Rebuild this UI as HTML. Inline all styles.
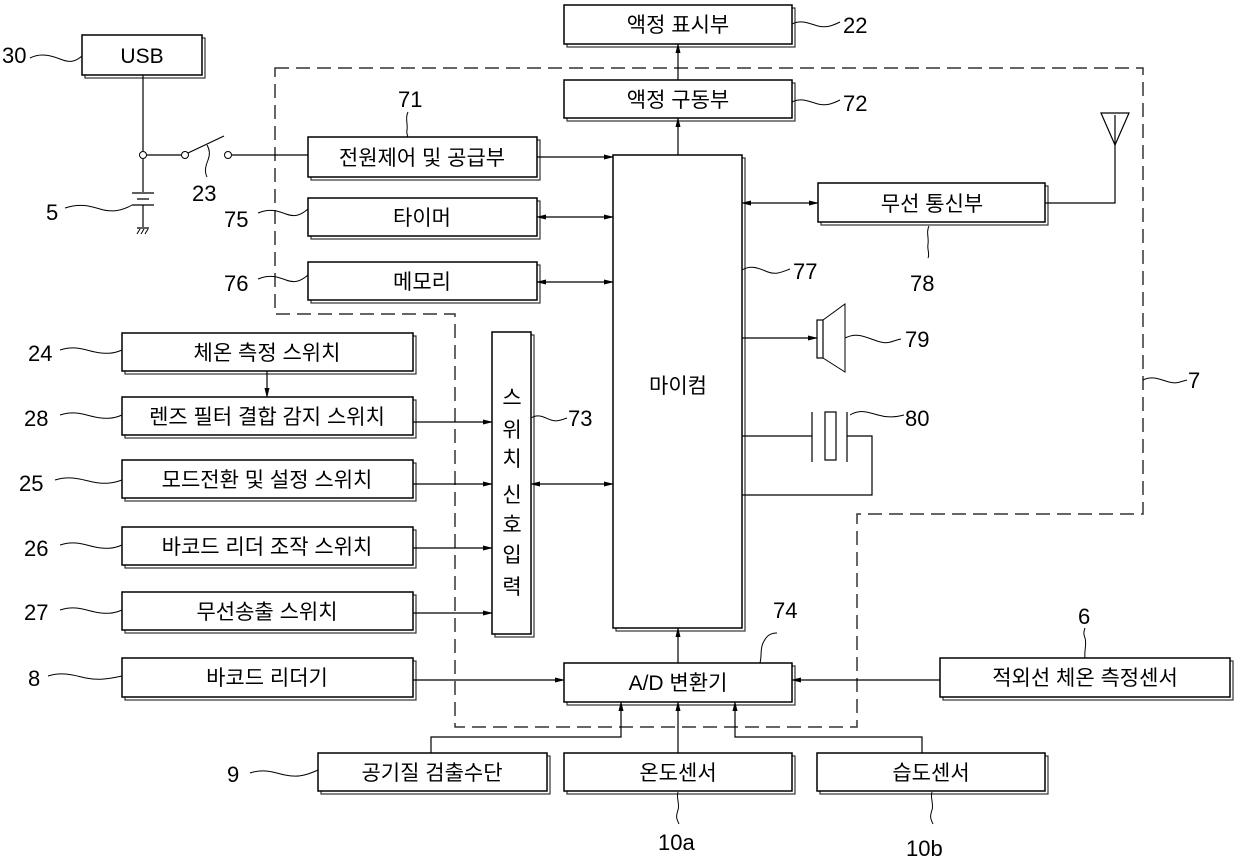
<!DOCTYPE html>
<html><head><meta charset="utf-8"><style>
html,body{margin:0;padding:0;background:#fff}
svg{display:block}
text{font-family:"Liberation Sans","Noto Sans CJK KR","NanumGothic",sans-serif;font-size:21px;fill:#000}
text.n{font-size:22px}
.b{fill:#fff;stroke:#000;stroke-width:1.5}
.s{fill:#fff;stroke:#333;stroke-width:1.2}
.l{stroke:#000;stroke-width:1.2;fill:none}
.w{stroke:#000;stroke-width:1;fill:none}
</style></head><body>
<svg width="1240" height="860" viewBox="0 0 1240 860" xmlns="http://www.w3.org/2000/svg">
<defs>
<marker id="a" markerWidth="10" markerHeight="6" refX="9" refY="3" orient="auto" markerUnits="userSpaceOnUse"><path d="M0,0.5 L10,3 L0,5.5 z" fill="#000"/></marker>
<marker id="as" markerWidth="10" markerHeight="6" refX="1" refY="3" orient="auto" markerUnits="userSpaceOnUse"><path d="M10,0.5 L0,3 L10,5.5 z" fill="#000"/></marker>
</defs>
<path d="M275,68 H1143 V514 H857 V727 H455 V314 H275 Z" fill="none" stroke="#333" stroke-width="1.5" stroke-dasharray="14,7"/>

<g>
<rect class="s" x="85" y="38" width="120" height="40"/><rect class="b" x="82" y="35" width="120" height="40"/>
<text x="142" y="63" text-anchor="middle">USB</text>

<rect class="s" x="567" y="8" width="228" height="39"/><rect class="b" x="564" y="5" width="228" height="39"/>
<text x="678" y="32" text-anchor="middle">액정 표시부</text>

<rect class="s" x="567" y="83" width="228" height="38"/><rect class="b" x="564" y="80" width="228" height="38"/>
<text x="678" y="107" text-anchor="middle">액정 구동부</text>

<rect class="s" x="311" y="140" width="229" height="40"/><rect class="b" x="308" y="137" width="229" height="40"/>
<text x="422" y="165" text-anchor="middle">전원제어 및 공급부</text>

<rect class="s" x="311" y="201" width="229" height="38"/><rect class="b" x="308" y="198" width="229" height="38"/>
<text x="422" y="225" text-anchor="middle">타이머</text>

<rect class="s" x="311" y="265" width="229" height="38"/><rect class="b" x="308" y="262" width="229" height="38"/>
<text x="422" y="289" text-anchor="middle">메모리</text>

<rect class="s" x="616" y="158" width="129" height="473"/><rect class="b" x="613" y="155" width="129" height="473"/>
<text x="678" y="393" text-anchor="middle">마이컴</text>

<rect class="s" x="821" y="186" width="227" height="39"/><rect class="b" x="818" y="183" width="227" height="39"/>
<text x="932" y="211" text-anchor="middle">무선 통신부</text>

<rect class="s" x="495" y="335" width="39" height="302"/><rect class="b" x="492" y="332" width="39" height="302"/>
<g text-anchor="middle">
<text x="512" y="405">스</text><text x="512" y="437">위</text><text x="512" y="466">치</text>
<text x="512" y="502">신</text><text x="512" y="532">호</text><text x="512" y="562">입</text><text x="512" y="594">력</text>
</g>

<rect class="s" x="125" y="336" width="291" height="38"/><rect class="b" x="122" y="333" width="291" height="38"/>
<text x="267" y="360" text-anchor="middle">체온 측정 스위치</text>
<rect class="s" x="125" y="400" width="291" height="38"/><rect class="b" x="122" y="397" width="291" height="38"/>
<text x="267" y="424" text-anchor="middle">렌즈 필터 결합 감지 스위치</text>
<rect class="s" x="125" y="463" width="291" height="38"/><rect class="b" x="122" y="460" width="291" height="38"/>
<text x="267" y="487" text-anchor="middle">모드전환 및 설정 스위치</text>
<rect class="s" x="125" y="530" width="291" height="38"/><rect class="b" x="122" y="527" width="291" height="38"/>
<text x="267" y="554" text-anchor="middle">바코드 리더 조작 스위치</text>
<rect class="s" x="125" y="595" width="291" height="38"/><rect class="b" x="122" y="592" width="291" height="38"/>
<text x="267" y="619" text-anchor="middle">무선송출 스위치</text>
<rect class="s" x="125" y="661" width="291" height="39"/><rect class="b" x="122" y="658" width="291" height="39"/>
<text x="267" y="685" text-anchor="middle">바코드 리더기</text>

<rect class="s" x="567" y="666" width="228" height="39"/><rect class="b" x="564" y="663" width="228" height="39"/>
<text x="678" y="690" text-anchor="middle">A/D 변환기</text>

<rect class="s" x="943" y="661" width="290" height="39"/><rect class="b" x="940" y="658" width="290" height="39"/>
<text x="1085" y="685" text-anchor="middle">적외선 체온 측정센서</text>

<rect class="s" x="321" y="756" width="229" height="38"/><rect class="b" x="318" y="753" width="229" height="38"/>
<text x="432" y="780" text-anchor="middle">공기질 검출수단</text>
<rect class="s" x="567" y="756" width="228" height="38"/><rect class="b" x="564" y="753" width="228" height="38"/>
<text x="678" y="780" text-anchor="middle">온도센서</text>
<rect class="s" x="820" y="756" width="228" height="38"/><rect class="b" x="817" y="753" width="228" height="38"/>
<text x="931" y="780" text-anchor="middle">습도센서</text>
</g>

<path class="l" d="M143,75 V151 M143,159 V192 M147,155 H181"/>
<circle cx="143" cy="155" r="3.5" fill="#fff" stroke="#000"/>
<circle cx="185" cy="155" r="3.5" fill="#fff" stroke="#000"/>
<circle cx="228" cy="155" r="3.5" fill="#fff" stroke="#000"/>
<path class="l" d="M188,153 L224,136 M232,155 H308"/>
<path class="l" d="M132,193 H154 M137,199 H149 M132,205 H154 M143,205 V227 M137,228 H149" stroke-width="1.5"/>
<path class="w" d="M137,234 l3,-5 M141,234 l3,-5 M145,234 l3,-5"/>

<path class="l" d="M537,157 H613" marker-end="url(#a)"/>
<path class="l" d="M537,217 H613" marker-end="url(#a)" marker-start="url(#as)"/>
<path class="l" d="M537,282 H613" marker-end="url(#a)" marker-start="url(#as)"/>
<path class="l" d="M678,155 V118" marker-end="url(#a)"/>
<path class="l" d="M678,80 V44" marker-end="url(#a)"/>
<path class="l" d="M742,203 H818" marker-end="url(#a)" marker-start="url(#as)"/>
<path class="l" d="M1045,203 H1115 V115"/>
<path class="l" d="M1101,113 L1115,145 L1129,113 Z"/>
<path class="l" d="M742,338 H817" marker-end="url(#a)"/>
<rect x="817" y="320" width="6" height="38" fill="#fff" stroke="#000" stroke-width="1.2"/>
<path class="w" d="M823,320 L845,304 V372 L823,358"/>
<path class="l" d="M742,436 H812 M812,412 V462 M847,412 V462 M847,436 H872 V495 H742"/>
<rect x="825" y="412" width="11" height="48" fill="#fff" stroke="#000" stroke-width="1.2"/>

<path class="l" d="M267,371 V397" marker-end="url(#a)"/>
<path class="l" d="M413,422 H492" marker-end="url(#a)"/>
<path class="l" d="M413,484 H492" marker-end="url(#a)"/>
<path class="l" d="M531,484 H613" marker-end="url(#a)" marker-start="url(#as)"/>
<path class="l" d="M413,548 H492" marker-end="url(#a)"/>
<path class="l" d="M413,613 H492" marker-end="url(#a)"/>
<path class="l" d="M413,680 H564" marker-end="url(#a)"/>
<path class="l" d="M940,680 H792" marker-end="url(#a)"/>
<path class="l" d="M678,663 V628" marker-end="url(#a)"/>
<path class="l" d="M431,753 V737 H621 V702" marker-end="url(#a)"/>
<path class="l" d="M678,753 V702" marker-end="url(#a)"/>
<path class="l" d="M922,753 V737 H735 V702" marker-end="url(#a)"/>

<g class="w">
<path d="M30,58 c10,-5 20,-3 30,1 s15,3 22,-3"/>
<path d="M65,208 c15,-5 25,-2 35,1 s20,3 32,-4"/>
<path d="M207,177 c-3,-6 -1,-12 1,-17 s2,-10 -1,-15"/>
<path d="M408,112 c-3,6 0,12 -1,18 s2,5 0,7"/>
<path d="M258,213 c12,-5 20,-2 28,1 s14,2 22,-5"/>
<path d="M258,279 c12,-5 20,-2 28,1 s14,2 22,-5"/>
<path d="M792,102 c10,-5 18,0 26,2 s14,0 22,-4"/>
<path d="M792,24 c10,-5 18,0 26,2 s14,0 22,-4"/>
<path d="M742,270 c10,-6 18,-1 26,2 s14,0 22,-3"/>
<path d="M929,226 c-3,6 0,12 -1,18 s2,10 0,14"/>
<path d="M845,338 c12,-6 20,-1 32,3 s14,0 24,-2"/>
<path d="M850,415 c10,-6 18,-3 28,0 s18,2 26,0"/>
<path d="M1143,380 c10,-5 18,0 26,2 s10,0 18,-2"/>
<path d="M60,350 c15,-5 25,0 35,2 s18,2 27,-2"/>
<path d="M60,415 c15,-5 25,0 35,2 s18,2 27,-2"/>
<path d="M55,480 c15,-5 28,0 38,2 s18,2 29,-2"/>
<path d="M60,545 c15,-5 25,0 35,2 s18,2 27,-2"/>
<path d="M60,610 c15,-5 25,0 35,2 s18,2 27,-2"/>
<path d="M48,676 c15,-5 28,0 38,2 s18,2 36,-2"/>
<path d="M531,418 c8,-5 14,0 20,2 s10,0 16,-2"/>
<path d="M760,663 c2,-8 0,-14 3,-20 s6,-10 14,-10"/>
<path d="M1085,658 c-1,-8 2,-14 0,-20 s-1,-6 0,-10"/>
<path d="M250,773 c15,-5 25,0 35,2 s18,2 33,-5"/>
<path d="M678,792 c-2,6 2,12 0,18 s-2,8 1,14"/>
<path d="M932,792 c-2,6 2,12 0,18 s-2,8 1,14"/>
</g>

<text class="n" x="2" y="63">30</text>
<text class="n" x="46" y="220">5</text>
<text class="n" x="192" y="201">23</text>
<text class="n" x="398" y="107">71</text>
<text class="n" x="224" y="227">75</text>
<text class="n" x="224" y="291">76</text>
<text class="n" x="843" y="111">72</text>
<text class="n" x="843" y="33">22</text>
<text class="n" x="793" y="279">77</text>
<text class="n" x="910" y="291">78</text>
<text class="n" x="905" y="347">79</text>
<text class="n" x="905" y="426">80</text>
<text class="n" x="1188" y="388">7</text>
<text class="n" x="28" y="361">24</text>
<text class="n" x="24" y="426">28</text>
<text class="n" x="19" y="491">25</text>
<text class="n" x="24" y="556">26</text>
<text class="n" x="24" y="620">27</text>
<text class="n" x="28" y="686">8</text>
<text class="n" x="568" y="426">73</text>
<text class="n" x="773" y="618">74</text>
<text class="n" x="1078" y="624">6</text>
<text class="n" x="227" y="782">9</text>
<text class="n" x="658" y="850">10a</text>
<text class="n" x="906" y="856">10b</text>
</svg>
</body></html>
